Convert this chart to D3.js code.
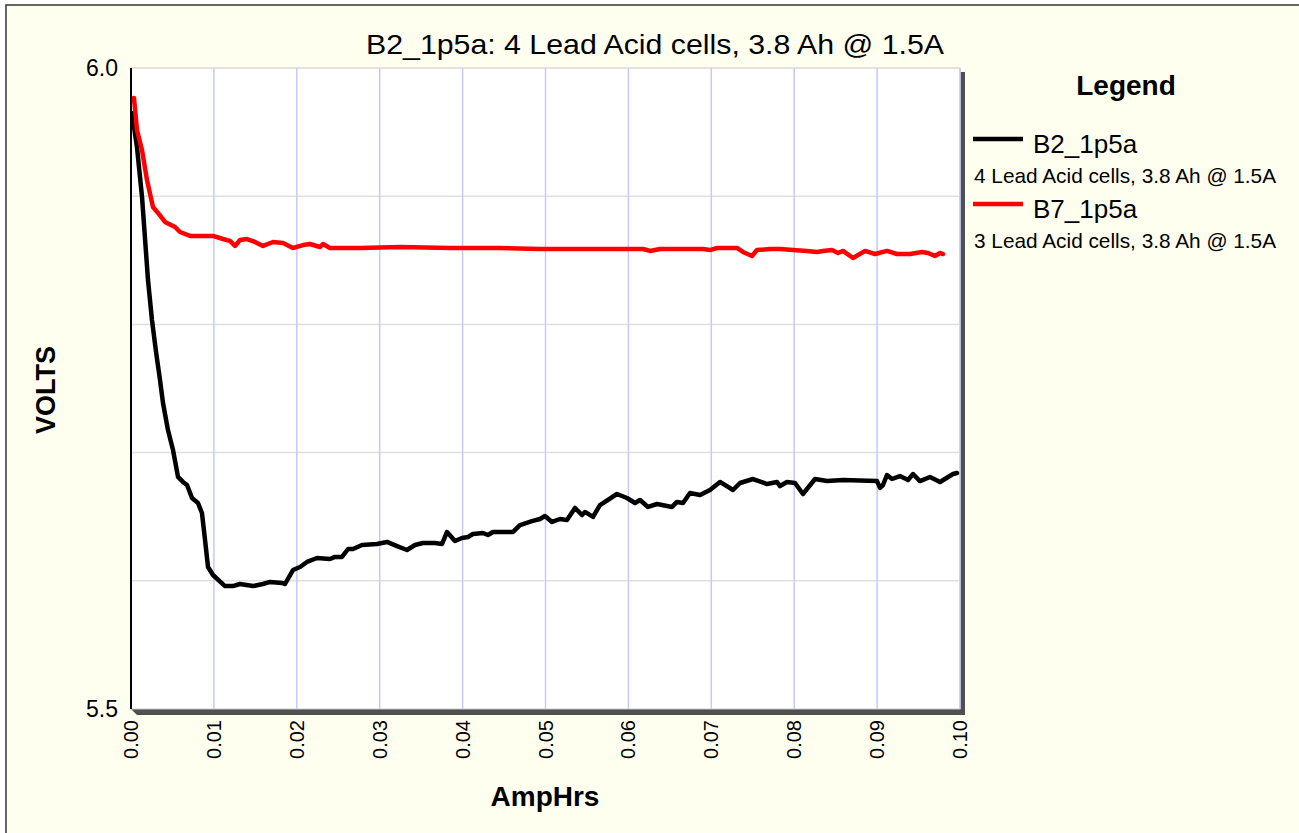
<!DOCTYPE html>
<html>
<head>
<meta charset="utf-8">
<script src="https://cdn.jsdelivr.net/npm/d3@7"></script>
<style>
  body { margin: 0; background: #fff; }
  text { font-family: "Liberation Sans", Arial, sans-serif; }
</style>
</head>
<body>
<div id="chart"></div>
<script>
const width = 1299, height = 833;

// B2_1p5a, 4 cells
const b2Amp = [0.0000, 0.00012, 0.00072, 0.00133, 0.00205, 0.00253, 0.00302, 0.00350, 0.00386, 0.00446,
  0.00507, 0.00567, 0.00627, 0.00676, 0.00736, 0.00808, 0.00856, 0.00893, 0.00929, 0.00989,
  0.01134, 0.01230, 0.01315, 0.01472, 0.01592, 0.01677, 0.01821, 0.01858, 0.01954, 0.02039,
  0.02123, 0.02244, 0.02400, 0.02461, 0.02545, 0.02618, 0.02678, 0.02787, 0.02967, 0.03088,
  0.03209, 0.03329, 0.03426, 0.03522, 0.03667, 0.03752, 0.03812, 0.03908, 0.03993, 0.04065,
  0.04125, 0.04246, 0.04306, 0.04367, 0.04608, 0.04692, 0.04837, 0.04934, 0.04994, 0.05078,
  0.05175, 0.05259, 0.05356, 0.05440, 0.05476, 0.05573, 0.05657, 0.05862, 0.05983, 0.06080,
  0.06140, 0.06236, 0.06345, 0.06526, 0.06586, 0.06659, 0.06743, 0.06864, 0.06984, 0.07105,
  0.07262, 0.07346, 0.07503, 0.07672, 0.07793, 0.07829, 0.07913, 0.08010, 0.08106, 0.08251,
  0.08396, 0.08589, 0.08999, 0.09035, 0.09071, 0.09119, 0.09180, 0.09276, 0.09373, 0.09433,
  0.09517, 0.09638, 0.09759, 0.09916, 0.09964];
const b2Volt = [5.9649, 5.9649, 5.9384, 5.8994, 5.8346, 5.8034, 5.7785, 5.7566, 5.7387, 5.7176,
  5.7020, 5.6810, 5.6771, 5.6747, 5.6646, 5.6607, 5.6529, 5.6318, 5.6108, 5.6045,
  5.5959, 5.5959, 5.5975, 5.5959, 5.5975, 5.5991, 5.5983, 5.5975, 5.6084, 5.6108,
  5.6147, 5.6178, 5.6170, 5.6186, 5.6186, 5.6248, 5.6248, 5.6279, 5.6287, 5.6303,
  5.6271, 5.6240, 5.6279, 5.6295, 5.6295, 5.6287, 5.6381, 5.6310, 5.6334, 5.6342,
  5.6365, 5.6373, 5.6357, 5.6381, 5.6381, 5.6435, 5.6466, 5.6482, 5.6505, 5.6459,
  5.6482, 5.6474, 5.6568, 5.6513, 5.6537, 5.6498, 5.6591, 5.6677, 5.6646, 5.6607,
  5.6630, 5.6576, 5.6599, 5.6576, 5.6615, 5.6607, 5.6685, 5.6669, 5.6708, 5.6771,
  5.6708, 5.6763, 5.6794, 5.6755, 5.6771, 5.6739, 5.6771, 5.6763, 5.6677, 5.6794,
  5.6778, 5.6786, 5.6778, 5.6724, 5.6747, 5.6825, 5.6794, 5.6817, 5.6786, 5.6833,
  5.6778, 5.6810, 5.6771, 5.6833, 5.6841];

// B7_1p5a, 3 cells
const b7Amp = [0.00036, 0.00072, 0.00133, 0.00193, 0.00265, 0.00326, 0.00410, 0.00531, 0.00591, 0.00712,
  0.00869, 0.00989, 0.01110, 0.01194, 0.01255, 0.01315, 0.01399, 0.01496, 0.01592, 0.01713,
  0.01834, 0.01954, 0.02075, 0.02159, 0.02280, 0.02316, 0.02400, 0.02762, 0.03245, 0.03848,
  0.04451, 0.04934, 0.05416, 0.05899, 0.06176, 0.06261, 0.06381, 0.06900, 0.06984, 0.07069,
  0.07310, 0.07382, 0.07491, 0.07551, 0.07708, 0.07829, 0.07986, 0.08154, 0.08275, 0.08347,
  0.08456, 0.08528, 0.08589, 0.08709, 0.08854, 0.08975, 0.09119, 0.09240, 0.09397, 0.09542,
  0.09614, 0.09698, 0.09759, 0.09795];
const b7Volt = [5.9766, 5.9516, 5.9360, 5.9126, 5.8916, 5.8869, 5.8799, 5.8760, 5.8721, 5.8690,
  5.8690, 5.8690, 5.8666, 5.8651, 5.8612, 5.8658, 5.8666, 5.8643, 5.8612, 5.8643,
  5.8635, 5.8596, 5.8619, 5.8627, 5.8604, 5.8627, 5.8596, 5.8596, 5.8604, 5.8596,
  5.8596, 5.8588, 5.8588, 5.8588, 5.8588, 5.8573, 5.8588, 5.8588, 5.8580, 5.8596,
  5.8596, 5.8565, 5.8534, 5.8580, 5.8588, 5.8588, 5.8580, 5.8573, 5.8565, 5.8573,
  5.8580, 5.8557, 5.8573, 5.8518, 5.8573, 5.8549, 5.8573, 5.8549, 5.8549, 5.8565,
  5.8557, 5.8534, 5.8557, 5.8549];

const xTicks = [0.00, 0.01, 0.02, 0.03, 0.04, 0.05, 0.06, 0.07, 0.08, 0.09, 0.10];
const yTicks = [5.5, 6.0];
const yGrid = [5.6, 5.7, 5.8, 5.9];

const seriesNames = ["B2_1p5a", "B7_1p5a"];
const seriesNotes = ["4 Lead Acid cells, 3.8 Ah @ 1.5A", "3 Lead Acid cells, 3.8 Ah @ 1.5A"];
const seriesColors = ["#000000", "#ff0000"];

const plotLeft = 131, plotRight = 960, plotTop = 68, plotBottom = 709;

const x = d3.scaleLinear().domain([0, 0.10]).range([plotLeft, plotRight]);
const y = d3.scaleLinear().domain([5.5, 6.0]).range([plotBottom, plotTop]);

const svg = d3.select("#chart").append("svg")
    .attr("width", width)
    .attr("height", height);

// page background and frame
svg.append("rect")
    .attr("x", 6).attr("y", 5)
    .attr("width", width + 10).attr("height", height + 10)
    .attr("fill", "#fffff0")
    .attr("stroke", "#333").attr("stroke-width", 1.5);

// plot shadow
svg.append("path")
    .attr("d", `M${plotRight},${plotTop + 4} L${plotRight + 5},${plotTop + 4} L${plotRight + 5},${plotBottom + 6} L${plotLeft + 6},${plotBottom + 6} L${plotLeft},${plotBottom} L${plotRight},${plotBottom} Z`)
    .attr("fill", "#505050");

svg.append("rect")
    .attr("x", plotLeft).attr("y", plotTop)
    .attr("width", plotRight - plotLeft).attr("height", plotBottom - plotTop)
    .attr("fill", "#fff")
    .attr("stroke", "#c8c8c8").attr("stroke-width", 1);

const grid = svg.append("g");

grid.selectAll("line.h")
    .data(yGrid)
    .enter()
    .append("line")
    .attr("x1", plotLeft).attr("x2", plotRight)
    .attr("y1", d => y(d)).attr("y2", d => y(d))
    .attr("stroke", "#e0e0e0")
    .attr("stroke-width", 1.5);

grid.selectAll("line.v")
    .data(xTicks.slice(1))
    .enter()
    .append("line")
    .attr("x1", d => x(d)).attr("x2", d => x(d))
    .attr("y1", plotTop).attr("y2", plotBottom)
    .attr("stroke", "#c8c8ff")
    .attr("stroke-width", 1.5);

// left axis line
svg.append("line")
    .attr("x1", plotLeft).attr("x2", plotLeft)
    .attr("y1", plotTop).attr("y2", plotBottom)
    .attr("stroke", "#000").attr("stroke-width", 2);

svg.append("clipPath").attr("id", "clip")
    .append("rect")
    .attr("x", plotLeft).attr("y", plotTop)
    .attr("width", plotRight - plotLeft).attr("height", plotBottom - plotTop);

const line = d3.line()
    .x(d => x(d[0]))
    .y(d => y(d[1]));

const series = [d3.zip(b2Amp, b2Volt), d3.zip(b7Amp, b7Volt)];

svg.append("g")
    .attr("clip-path", "url(#clip)")
    .selectAll("path")
    .data(series)
    .enter()
    .append("path")
    .attr("d", line)
    .attr("fill", "none")
    .attr("stroke", (d, i) => seriesColors[i])
    .attr("stroke-width", 4.5)
    .attr("stroke-linejoin", "round")
    .attr("stroke-linecap", "round");

// tick labels
svg.selectAll("text.yt")
    .data(yTicks)
    .enter()
    .append("text")
    .attr("x", 118)
    .attr("y", d => y(d) + 8)
    .attr("text-anchor", "end")
    .attr("font-size", 23)
    .text(d => d.toFixed(1));

svg.selectAll("text.xt")
    .data(xTicks)
    .enter()
    .append("text")
    .attr("transform", d => `translate(${x(d) + 7},720) rotate(-90)`)
    .attr("text-anchor", "end")
    .attr("font-size", 20)
    .text(d => d.toFixed(2));

// titles
svg.append("text")
    .attr("x", 655).attr("y", 54)
    .attr("text-anchor", "middle")
    .attr("font-size", 28)
    .attr("textLength", 578)
    .attr("lengthAdjust", "spacingAndGlyphs")
    .text("B2_1p5a: 4 Lead Acid cells, 3.8 Ah @ 1.5A");

svg.append("text")
    .attr("transform", "translate(55,390) rotate(-90)")
    .attr("text-anchor", "middle")
    .attr("font-size", 27)
    .attr("font-weight", "bold")
    .text("VOLTS");

svg.append("text")
    .attr("x", 545).attr("y", 806)
    .attr("text-anchor", "middle")
    .attr("font-size", 28)
    .attr("font-weight", "bold")
    .text("AmpHrs");

// legend
const legend = svg.append("g");

legend.append("text")
    .attr("x", 1126).attr("y", 95)
    .attr("text-anchor", "middle")
    .attr("font-size", 28)
    .attr("font-weight", "bold")
    .text("Legend");

const item = legend.selectAll("g.item")
    .data(seriesNames)
    .enter()
    .append("g")
    .attr("transform", (d, i) => `translate(0,${i * 65})`);

item.append("line")
    .attr("x1", 973).attr("x2", 1023)
    .attr("y1", 139).attr("y2", 139)
    .attr("stroke", (d, i) => seriesColors[i])
    .attr("stroke-width", 4.5);

item.append("text")
    .attr("x", 1033).attr("y", 153)
    .attr("font-size", 26)
    .text(d => d);

item.append("text")
    .attr("x", 974).attr("y", 183)
    .attr("font-size", 20.8)
    .text((d, i) => seriesNotes[i]);
</script>
</body>
</html>
